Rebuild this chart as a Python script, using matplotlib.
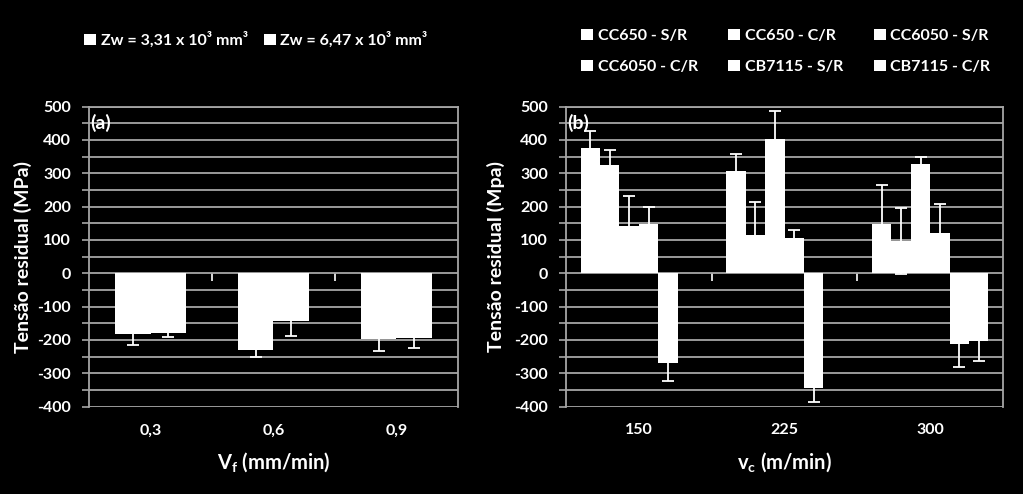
import numpy as np
import matplotlib
matplotlib.use('Agg')
import matplotlib.pyplot as plt

plt.rcParams['font.family'] = ['Lato', 'DejaVu Sans']
plt.rcParams['font.weight'] = 'bold'
plt.rcParams['axes.unicode_minus'] = False
plt.rcParams['mathtext.fontset'] = 'custom'
plt.rcParams['mathtext.rm'] = 'Lato:bold'
plt.rcParams['mathtext.it'] = 'Lato:bold'
plt.rcParams['mathtext.bf'] = 'Lato:bold'

# (a) residual stress vs feed speed
vf_labels = ['0,3', '0,6', '0,9']
zw1 = [-182, -230, -198]
zw1_err = [34, 20, 34]
zw2 = [-178, -144, -195]
zw2_err = [14, 44, 29]
zw_names = ['Zw = 3,31 x 10³ mm³', 'Zw = 6,47 x 10³ mm³']

# (b) residual stress vs cutting speed
vc_labels = ['150', '225', '300']
cc650_sr = [376, 306, 149]
cc650_sr_err = [52, 52, 117]
cc650_cr = [326, 116, 97]
cc650_cr_err = [45, 97, 98]
cc6050_sr = [141, 404, 327]
cc6050_sr_err = [92, 82, 23]
cc6050_cr = [149, 106, 120]
cc6050_cr_err = [49, 25, 88]
cb7115_sr = [-270, -343, -212]
cb7115_sr_err = [52, 42, 68]
cb7115_cr = [np.nan, np.nan, -202]
cb7115_cr_err = [np.nan, np.nan, 61]
tool_names = ['CC650 - S/R', 'CC650 - C/R', 'CC6050 - S/R',
              'CC6050 - C/R', 'CB7115 - S/R', 'CB7115 - C/R']

grid_c = '#a6a6a6'
fig = plt.figure(figsize=(10.23, 4.94), dpi=100, facecolor='black')
ax1 = fig.add_axes([0.087, 0.1767, 0.3607, 0.6077])
ax2 = fig.add_axes([0.5533, 0.1767, 0.4272, 0.6077])


def style_axis(ax, labels, xlabel, ylabel, tag, ylab_x):
    ax.set_facecolor('black')
    ax.set_ylim(-400, 500)
    ax.set_xlim(-0.5, len(labels) - 0.5)
    ax.set_yticks(range(-400, 501, 100))
    ax.set_yticks(range(-350, 500, 100), minor=True)
    ax.grid(axis='y', which='both', color=grid_c, lw=1.3)
    ax.set_axisbelow(True)
    ax.tick_params(axis='y', which='both', colors=grid_c, length=5, width=1.2,
                   labelcolor='white', labelsize=11.5, pad=8)
    for t in ax.get_yticklabels():
        t.set_fontweight('bold')
    for s in ['left', 'right', 'top']:
        ax.spines[s].set_color(grid_c)
        ax.spines[s].set_linewidth(1.3)
    # category axis crosses at zero
    ax.spines['bottom'].set_position(('data', 0))
    ax.spines['bottom'].set_color('none')
    ax.set_xticks(range(len(labels)), [''] * len(labels))
    ax.set_xticks(np.arange(0.5, len(labels) - 1, 1), minor=True)
    ax.tick_params(axis='x', which='major', length=0)
    ax.tick_params(axis='x', which='minor', length=6, width=1.2, color='white',
                   direction='out')
    sec = ax.secondary_xaxis('bottom')
    sec.set_xticks(range(len(labels)), labels, fontweight='bold')
    sec.tick_params(length=0, pad=12, labelcolor='white', labelsize=11.5)
    sec.spines['bottom'].set_color('none')
    sec.set_xlabel(xlabel, color='white', fontsize=14.5, fontweight='bold',
                   labelpad=9)
    ax.set_ylabel(ylabel, color='white', fontsize=14, fontweight='bold')
    ax.yaxis.set_label_coords(ylab_x, 0.5)
    ax.text(0.003, 0.944, tag, transform=ax.transAxes, color='white',
            fontsize=14, fontweight='bold', va='center', ha='left')


err_kw = dict(ecolor='white', elinewidth=1.3, capsize=4, capthick=1.3)

# panel (a)
x = np.arange(len(vf_labels))
w = 1 / 3.5
bars_a = []
for i, (vals, errs) in enumerate([(zw1, zw1_err), (zw2, zw2_err)]):
    b = ax1.bar(x + (i - 0.5) * w, vals, w, yerr=errs, color='white',
                error_kw=err_kw, label=zw_names[i])
    bars_a.append(b)
style_axis(ax1, vf_labels, 'V$_{f}$ (mm/min)', 'Tensão residual (MPa)', '(a)',
           -0.155)

# panel (b)
series = [(cc650_sr, cc650_sr_err), (cc650_cr, cc650_cr_err),
          (cc6050_sr, cc6050_sr_err), (cc6050_cr, cc6050_cr_err),
          (cb7115_sr, cb7115_sr_err), (cb7115_cr, cb7115_cr_err)]
x = np.arange(len(vc_labels))
w = 1 / 7.5
bars_b = []
for i, (vals, errs) in enumerate(series):
    b = ax2.bar(x + (i - 2.5) * w, vals, w, yerr=errs, color='white',
                error_kw=err_kw, label=tool_names[i])
    bars_b.append(b)
style_axis(ax2, vc_labels, 'v$_{c}$ (m/min)', 'Tensão residual (Mpa)', '(b)',
           -0.14)

# legends
leg_font = {'size': 11.5, 'weight': 'bold'}
fig.legend(bars_a, zw_names, loc='center', bbox_to_anchor=(0.25, 0.919),
           ncol=2, frameon=False, labelcolor='white', prop=leg_font,
           handlelength=0.75, handleheight=0.75, handletextpad=0.3,
           columnspacing=1.0)
order = [0, 3, 1, 4, 2, 5]
fig.legend([bars_b[i] for i in order], [tool_names[i] for i in order],
           loc='center', bbox_to_anchor=(0.768, 0.896), ncol=3, frameon=False,
           labelcolor='white', prop=leg_font, handlelength=0.75,
           handleheight=0.75, handletextpad=0.3, columnspacing=1.9,
           labelspacing=1.05)

fig.savefig('out.png', dpi=100, facecolor='black')
